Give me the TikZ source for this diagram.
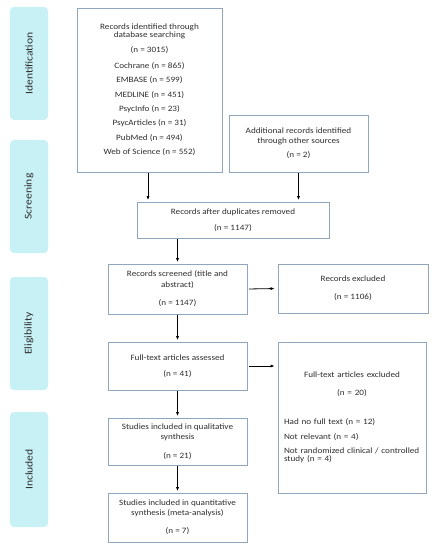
\documentclass[tikz,border=0pt]{standalone}
\usepackage{fontspec}
\setmainfont{Carlito}[FakeStretch=1.12]
\usetikzlibrary{arrows.meta}
\definecolor{boxline}{HTML}{8FA6BC}
\definecolor{sidefill}{HTML}{C8F1F6}
\definecolor{txt}{HTML}{2E2E2E}
\begin{document}
\begin{tikzpicture}[x=1bp,y=-1bp,
  box/.style={draw=boxline,line width=0.8bp,fill=white,align=center,inner sep=0pt,text=txt,
    font=\fontsize{8.2}{8.5}\selectfont},
  side/.style={fill=sidefill,rounded corners=4bp,minimum width=38bp,inner sep=0pt,text=txt,
    font=\fontsize{10.4}{12}\selectfont},
  arr/.style={-{Latex[length=4bp,width=3.2bp]},line width=0.8bp,black,shorten >=1.5bp,shorten <=0.5bp}]
\useasboundingbox (0,0) rectangle (442,550);
\fill[white] (0,0) rectangle (442,550);
% side labels
\node[side,minimum height=113bp] (sid) at (29,63.5) {\rotatebox{90}{Identification}};
\node[side,minimum height=113bp] (sscr) at (29,196.5) {\rotatebox{90}{Screening}};
\node[side,minimum height=113bp] (selig) at (29,333.5) {\rotatebox{90}{Eligibility}};
\node[side,minimum height=115bp] (sinc) at (29,469.5) {\rotatebox{90}{Included}};
% boxes
\node[box,minimum width=145bp,minimum height=164bp] (db) at (149.5,90)
 {Records identified through\\[-1pt]database searching\\[7pt](n = 3015)\\[7pt]Cochrane (n = 865)\\[6pt]EMBASE (n = 599)\\[6pt]MEDLINE (n = 451)\\[6pt]PsycInfo (n = 23)\\[6pt]PsycArticles (n = 31)\\[6pt]PubMed (n = 494)\\[6pt]Web of Science (n = 552)};
\node[box,minimum width=139bp,minimum height=57bp] (add) at (298.5,143.5)
 {Additional records identified\\[1pt]through other sources\\[6pt](n = 2)};
\node[box,minimum width=192bp,minimum height=36bp] (dup) at (233,220)
 {Records after duplicates removed\\[8pt](n = 1147)};
\node[box,minimum width=139bp,minimum height=50bp] (scr) at (177.5,289)
 {Records screened (title and\\[2pt]abstract)\\[10pt](n = 1147)};
\node[box,minimum width=150bp,minimum height=49bp] (exc) at (353,288.5)
 {Records excluded\\[10pt](n = 1106)};
\node[box,minimum width=139bp,minimum height=48bp] (fta) at (177.5,366)
 {Full-text articles assessed\\[8pt](n = 41)};
\node[box,minimum width=148bp,minimum height=151bp,text width=136bp,align=left] (fte) at (352,417.5)
 {{\centering Full-text articles excluded\\[9pt](n = 20)\par}\vspace{21pt}%
  Had no full text (n = 12)\\[6pt]Not relevant (n = 4)\\[6pt]Not randomized clinical / controlled\\[-0.5pt]study (n = 4)};
\node[box,minimum width=139bp,minimum height=47bp] (qual) at (177.5,441.5)
 {Studies included in qualitative\\[2pt]synthesis\\[10pt](n = 21)};
\node[box,minimum width=139bp,minimum height=49bp] (quant) at (177.5,517.5)
 {Studies included in quantitative\\[1pt]synthesis (meta-analysis)\\[10pt](n = 7)};
% connectors
\draw[arr] (db.south -| 148,0) -- (dup.north -| 148,0);
\draw[arr] (add.south) -- (add.south |- dup.north);
\draw[arr] (scr.north |- dup.south) -- (scr.north);
\draw[arr] (scr.south) -- (fta.north);
\draw[arr] (fta.south) -- (qual.north);
\draw[arr] (qual.south) -- (quant.north);
\draw[arr,shorten <=1.5bp,shorten >=3bp] (scr.east) -- (exc.west);
\draw[arr,shorten <=1.5bp,shorten >=3bp] (fta.east) -- (fta.east -| fte.west);
\end{tikzpicture}
\end{document}
